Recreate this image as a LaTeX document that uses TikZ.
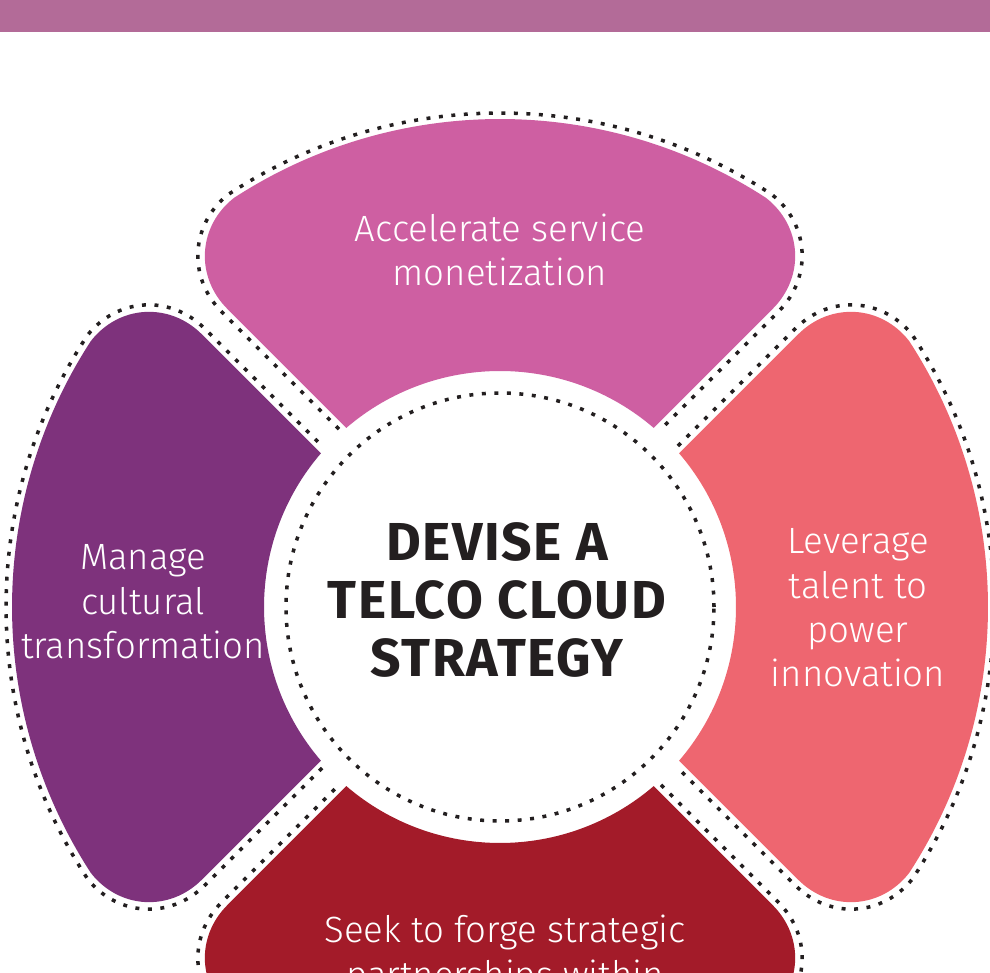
\documentclass[tikz,border=0pt]{standalone}
\usepackage{fontspec}
\setmainfont{Fira Sans}[UprightFont=* Light, BoldFont=* Bold]

\definecolor{bandColor}{RGB}{179,107,152}
\definecolor{monetColor}{RGB}{206,95,162}
\definecolor{talentColor}{RGB}{238,102,112}
\definecolor{partnerColor}{RGB}{163,27,41}
\definecolor{cultureColor}{RGB}{126,50,124}
\definecolor{inkColor}{RGB}{35,31,32}

%% Outline of one petal, pointing right: #1 inner radius, #2 outer radius,
%% #3 half gap to the diagonal, #4 length cut off at the rounded corners.
\newcommand{\petalGeom}[4]{%
  \pgfmathsetmacro{\pRin}{#1}%
  \pgfmathsetmacro{\pRout}{#2}%
  \pgfmathsetmacro{\pAin}{45-asin(#3/#1)}%
  \pgfmathsetmacro{\pAout}{45-asin(#3/#2)}%
  \pgfmathsetmacro{\pAround}{\pAout-#4/#2*180/pi}%
  \pgfmathsetmacro{\pPx}{#2*cos(\pAout)}%
  \pgfmathsetmacro{\pPy}{#2*sin(\pAout)}%
  \pgfmathsetmacro{\pSx}{\pPx-#4*cos(45)}%
  \pgfmathsetmacro{\pSy}{\pPy-#4*sin(45)}%
  \pgfmathsetmacro{\pQx}{\pPx-0.454*#4*cos(45)}%
  \pgfmathsetmacro{\pQy}{\pPy-0.454*#4*sin(45)}%
  \pgfmathsetmacro{\pAx}{#2*cos(\pAround)}%
  \pgfmathsetmacro{\pAy}{#2*sin(\pAround)}%
  \pgfmathsetmacro{\pBx}{\pAx+0.546*(\pPx-\pAx)}%
  \pgfmathsetmacro{\pBy}{\pAy+0.546*(\pPy-\pAy)}%
}

\begin{document}
\begin{tikzpicture}[x=0.025cm,y=0.025cm,%%
  petalStyle/.style={fill=#1,draw=none},%%
  dotStyle/.style={draw=inkColor,line width=2.5pt,dash pattern=on 2.8pt off 6.1pt},%%
  labelStyle/.style={text=white,align=center,font=\fontsize{26}{31.6}\selectfont},%%
  titleStyle/.style={text=inkColor,align=center,%%
    font=\fontsize{38}{41}\selectfont\bfseries\addfontfeature{LetterSpace=3}}%%
]
%%
\useasboundingbox (0,0) rectangle (990,972);
\clip (0,0) rectangle (990,972);
%%
\coordinate (hub) at (500,365);
%%
%% Top band.
\fill[bandColor] (0,940) rectangle (990,972);
%% The four petals round the hub.
\foreach \ang/\col in {0/talentColor,90/monetColor,180/cultureColor,270/partnerColor}{
  \begin{scope}[shift={(hub)},rotate=\ang]
    \petalGeom{236}{488}{18}{84}
    \fill[petalStyle=\col] (\pAin:\pRin) -- (\pSx,\pSy)
      .. controls (\pQx,\pQy) and (\pBx,\pBy) .. (\pAround:\pRout)
      arc[start angle=\pAround,end angle=-\pAround,radius=\pRout]
      .. controls (\pBx,-\pBy) and (\pQx,-\pQy) .. (\pSx,-\pSy)
      -- (-\pAin:\pRin)
      arc[start angle=-\pAin,end angle=\pAin,radius=\pRin] -- cycle;
    %% Dotted border, a little outside the petal.
    \petalGeom{240}{494}{12}{88}
    \draw[dotStyle] (\pAin:\pRin) -- (\pSx,\pSy)
      .. controls (\pQx,\pQy) and (\pBx,\pBy) .. (\pAround:\pRout)
      arc[start angle=\pAround,end angle=-\pAround,radius=\pRout]
      .. controls (\pBx,-\pBy) and (\pQx,-\pQy) .. (\pSx,-\pSy)
      -- (-\pAin:\pRin);
  \end{scope}
}
%% Dotted ring inside the hub.
\draw[dotStyle] (hub) circle[radius=214];
%%
\node[titleStyle] (strategyTitle) at (497,372) {DEVISE A\\TELCO CLOUD\\STRATEGY};
\node[labelStyle] (monetLabel) at (500,722) {Accelerate service\\monetization};
\node[labelStyle] (cultureLabel) at (143,370) {Manage\\cultural\\transformation};
\node[labelStyle] (talentLabel) at (858,364) {Leverage\\talent to\\power\\innovation};
\node[labelStyle] (partnerLabel) at (505,17) {Seek to forge strategic\\partnerships within};
\end{tikzpicture}
\end{document}
